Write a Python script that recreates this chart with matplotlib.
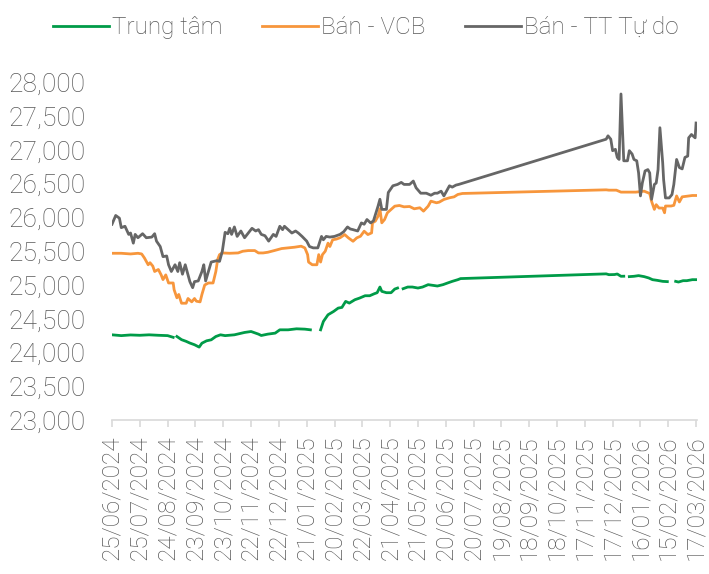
import numpy as np
import matplotlib
matplotlib.use("Agg")
import matplotlib.pyplot as plt
import matplotlib.dates as mdates
from matplotlib.ticker import FuncFormatter

# Tỷ giá USD/VND, x as days since 25/06/2024
start_date = np.datetime64("2024-06-25")

labels = ["Trung tâm", "Bán - VCB", "Bán - TT Tự do"]
colors = ["#009B48", "#F7963C", "#666666"]

# Trung tâm (NaN = holiday gaps)
days_tt = [0, 10, 20, 30, 40, 50, 60, 66, 68, 70, 75, 80, 84, 89, 94, 97, 102, 107, 112, 117,
           122, 132, 143, 150, 158, 161, 168, 176, 181, 190, 199, 208, 214, 219, 225, 228, 233,
           239, 244, 248, 252, 256, 262, 267, 273, 278, 283, 286, 289, 291, 296, 301, 305, 308,
           311, 314, 319, 324, 330, 335, 341, 346, 351, 357, 362, 367, 373, 376, 533, 536, 542,
           545, 549, 552, 555, 558, 563, 568, 574, 579, 583, 588, 594, 599, 603, 608, 611, 616,
           620, 626, 630]
trung_tam = [24262, 24250, 24260, 24255, 24262, 24255, 24250, 24225, np.nan, 24237, 24190,
             24165, 24140, 24115, 24080, 24138, 24173, 24188, 24237, 24262, 24250, 24262, 24297,
             24311, 24272, 24252, 24272, 24287, 24336, 24336, 24351, 24346, 24336, np.nan, 24336,
             24460, 24559, 24608, 24658, 24668, 24757, 24732, 24782, 24806, 24841, 24841, 24871,
             24886, 24970, 24906, 24886, 24886, 24940, 24955, np.nan, 24945, 24970, 24970, 24955,
             24970, 25005, 24995, 24985, 25005, 25030, 25054, 25079, 25095, 25165, 25153, 25155,
             25163, 25129, 25130, np.nan, 25124, 25129, 25139, 25124, 25104, 25079, 25069, 25054,
             25050, np.nan, 25054, 25044, 25064, 25064, 25079, 25079]

# Bán - VCB
days_vcb = [0, 10, 20, 28, 32, 35, 39, 41, 44, 46, 50, 53, 55, 58, 61, 66, 67, 70, 72, 75, 80,
            82, 86, 89, 91, 95, 97, 100, 104, 109, 112, 114, 116, 119, 127, 136, 141, 147, 154,
            158, 163, 168, 175, 183, 190, 197, 204, 208, 211, 212, 216, 221, 223, 225, 227, 230,
            233, 235, 238, 242, 246, 251, 255, 260, 264, 268, 272, 276, 280, 281, 284, 287, 289,
            291, 294, 297, 301, 305, 310, 315, 321, 326, 332, 336, 341, 344, 350, 353, 358, 364,
            369, 373, 378, 533, 536, 544, 549, 565, 574, 580, 582, 585, 587, 590, 594, 596, 597,
            603, 606, 609, 612, 615, 621, 626, 630]
vcb = [25470, 25470, 25460, 25470, 25460, 25400, 25300, 25330, 25280, 25200, 25230, 25150,
       25080, 25150, 25030, 25030, 24930, 24810, 24860, 24730, 24730, 24800, 24750, 24800, 24760,
       24750, 24860, 25000, 25030, 25030, 25200, 25380, 25450, 25475, 25470, 25475, 25500, 25510,
       25510, 25475, 25475, 25485, 25510, 25540, 25550, 25560, 25575, 25550, 25450, 25340, 25300,
       25300, 25450, 25340, 25450, 25500, 25620, 25570, 25670, 25680, 25700, 25747, 25698, 25648,
       25698, 25722, 25797, 25747, 25772, 25921, 25946, 26020, 26129, 25921, 25970, 26069, 26119,
       26168, 26178, 26158, 26163, 26129, 26144, 26094, 26168, 26242, 26218, 26228, 26267, 26292,
       26306, 26341, 26356, 26410, 26405, 26405, 26376, 26376, 26390, 26356, 26240, 26120, 26190,
       26140, 26140, 26070, 26170, 26170, 26180, 26320, 26230, 26306, 26317, 26326, 26326]

# Bán - TT Tự do
days_free = [0, 4, 8, 10, 14, 18, 20, 23, 25, 28, 33, 37, 43, 46, 48, 52, 55, 59, 61, 64, 68,
             71, 73, 76, 79, 82, 84, 87, 89, 93, 97, 99, 101, 104, 107, 113, 116, 119, 122, 125,
             127, 129, 132, 135, 139, 143, 147, 151, 155, 158, 161, 165, 169, 174, 177, 181, 184,
             186, 190, 194, 198, 201, 205, 210, 213, 217, 222, 226, 228, 231, 235, 240, 246, 250,
             254, 257, 260, 265, 269, 272, 275, 279, 282, 287, 289, 291, 296, 298, 303, 308, 312,
             315, 321, 325, 328, 333, 339, 344, 348, 351, 355, 358, 364, 367, 371, 374, 533, 535,
             538, 540, 543, 545, 547, 549, 552, 556, 558, 561, 563, 566, 568, 570, 572, 575, 578,
             580, 582, 585, 587, 589, 591, 594, 595, 597, 601, 604, 606, 609, 612, 615, 618, 621,
             622, 625, 629, 630]
free_mkt = [25900, 26030, 25990, 25850, 25870, 25750, 25770, 25620, 25750, 25700, 25760, 25700,
            25710, 25760, 25650, 25570, 25420, 25430, 25300, 25200, 25300, 25200, 25330, 25160,
            25300, 25150, 25050, 24960, 25050, 25060, 25200, 25300, 25060, 25200, 25340, 25360,
            25350, 25500, 25780, 25760, 25840, 25750, 25860, 25720, 25800, 25700, 25770, 25840,
            25800, 25820, 25750, 25730, 25650, 25750, 25720, 25870, 25820, 25870, 25820, 25770,
            25800, 25770, 25720, 25650, 25570, 25550, 25550, 25720, 25670, 25720, 25710, 25720,
            25750, 25790, 25860, 25830, 25820, 25800, 25920, 25900, 25970, 25920, 25950, 26170,
            26270, 26120, 26120, 26370, 26470, 26490, 26520, 26490, 26490, 26540, 26440, 26360,
            26360, 26330, 26360, 26360, 26390, 26320, 26470, 26450, 26480, 26490, 27160, 27210,
            27160, 26990, 27010, 26890, 26860, 27830, 26840, 26840, 26990, 26940, 26860, 26840,
            26660, 26320, 26510, 26690, 26710, 26660, 26270, 26490, 26510, 26710, 27330, 26810,
            26560, 26290, 26290, 26340, 26490, 26860, 26740, 26720, 26890, 26910, 27180, 27230,
            27180, 27400]

text_color = "#595959"
axis_color = "#D9D9D9"

plt.rcParams["font.family"] = ["Roboto", "DejaVu Sans"]
plt.rcParams["font.weight"] = "light"
plt.rcParams["font.size"] = 17.5


def to_dates(days):
    return start_date + np.array(days, dtype="timedelta64[D]")


fig = plt.figure(figsize=(7.09, 5.74), dpi=100)
ax = fig.add_axes([112 / 709, 154 / 574, 585 / 709, 337.5 / 574])

series = [(days_tt, trung_tam), (days_vcb, vcb), (days_free, free_mkt)]
for (d, v), lab, col in zip(series, labels, colors):
    ax.plot(to_dates(d), np.array(v, dtype=float), color=col, lw=2.0, label=lab,
            solid_joinstyle="round")

ax.set_ylim(23000, 28000)
ax.set_yticks(np.arange(23000, 28001, 500))
ax.yaxis.set_major_formatter(FuncFormatter(lambda v, p: f"{v:,.0f}"))

ax.set_xlim(start_date, start_date + np.timedelta64(631, "D"))
ax.set_xticks(start_date + np.arange(0, 631, 30).astype("timedelta64[D]"))
ax.xaxis.set_major_formatter(mdates.DateFormatter("%d/%m/%Y"))

for s in ["top", "right", "left"]:
    ax.spines[s].set_visible(False)
ax.spines["bottom"].set_color(axis_color)
ax.spines["bottom"].set_linewidth(1.2)

ax.tick_params(axis="x", direction="out", length=5, width=1.2, color=axis_color,
               labelcolor=text_color, labelrotation=90, pad=6, labelsize=17.5)
ax.tick_params(axis="y", length=0, labelcolor=text_color, pad=19, labelsize=19)

fig.legend(loc="center", bbox_to_anchor=(0.516, 0.952), ncol=3, frameon=False,
           handlelength=2.3, handletextpad=0.15, columnspacing=1.6, labelcolor=text_color)

fig.savefig("out.png", dpi=100)
